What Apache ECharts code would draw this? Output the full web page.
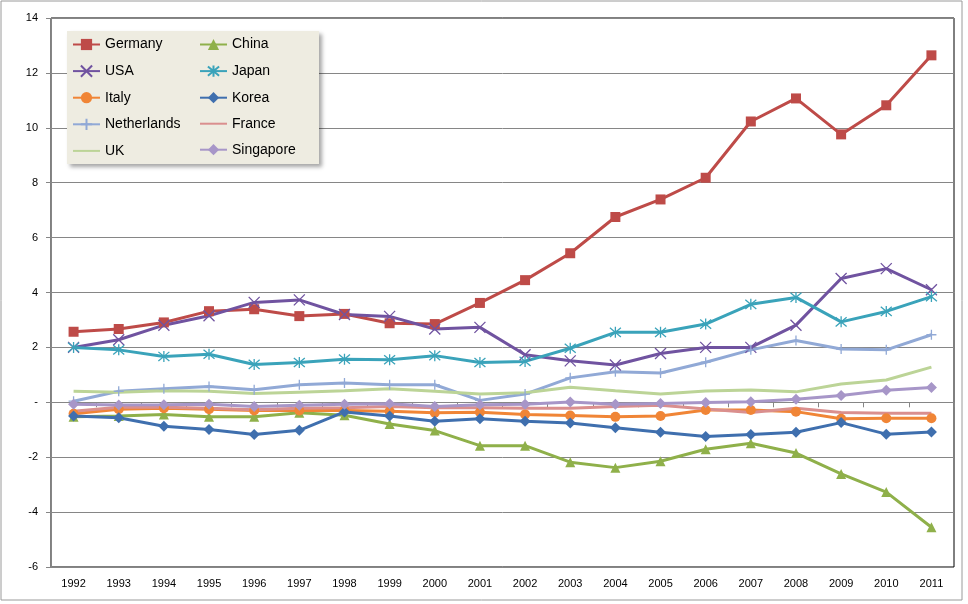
<!DOCTYPE html>
<html><head><meta charset="utf-8">
<script src="https://cdn.jsdelivr.net/npm/echarts@6/dist/echarts.min.js"></script>
<style>html,body{margin:0;padding:0;background:#fff}#c{width:968px;height:604px}</style>
</head><body><div id="c"></div>
<script>
var years = ['1992','1993','1994','1995','1996','1997','1998','1999','2000','2001','2002','2003','2004','2005','2006','2007','2008','2009','2010','2011'];
var germany = [2.57,2.67,2.91,3.32,3.39,3.14,3.22,2.88,2.85,3.62,4.45,5.43,6.75,7.39,8.18,10.23,11.07,9.76,10.82,12.64];
var usa = [2.0,2.28,2.81,3.15,3.64,3.73,3.2,3.13,2.67,2.73,1.73,1.51,1.36,1.78,2.0,2.0,2.81,4.51,4.87,4.1];
var japan = [2.0,1.91,1.67,1.75,1.38,1.45,1.57,1.55,1.7,1.45,1.49,1.97,2.55,2.55,2.85,3.57,3.82,2.93,3.31,3.85];
var italy = [-0.42,-0.25,-0.22,-0.25,-0.3,-0.3,-0.3,-0.33,-0.38,-0.36,-0.44,-0.48,-0.53,-0.5,-0.28,-0.28,-0.34,-0.6,-0.58,-0.58];
var korea = [-0.5,-0.56,-0.87,-0.99,-1.17,-1.02,-0.35,-0.5,-0.69,-0.6,-0.69,-0.75,-0.93,-1.09,-1.25,-1.17,-1.09,-0.74,-1.16,-1.08];
var netherlands = [0.04,0.4,0.49,0.58,0.46,0.64,0.7,0.64,0.64,0.07,0.3,0.89,1.11,1.07,1.46,1.91,2.25,1.94,1.91,2.46];
var uk = [0.4,0.37,0.42,0.4,0.32,0.37,0.42,0.49,0.4,0.3,0.35,0.55,0.42,0.3,0.41,0.45,0.38,0.67,0.81,1.28];
var china = [-0.53,-0.5,-0.44,-0.53,-0.53,-0.38,-0.47,-0.79,-1.03,-1.58,-1.58,-2.18,-2.38,-2.15,-1.71,-1.49,-1.85,-2.61,-3.27,-4.55];
var france = [-0.33,-0.18,-0.18,-0.22,-0.27,-0.22,-0.2,-0.15,-0.2,-0.2,-0.22,-0.22,-0.15,-0.11,-0.24,-0.37,-0.22,-0.37,-0.4,-0.4];
var singapore = [-0.07,-0.1,-0.09,-0.07,-0.15,-0.11,-0.07,-0.05,-0.15,-0.09,-0.07,0.01,-0.07,-0.04,-0.01,0.02,0.11,0.25,0.44,0.54];

var FONT = 'Liberation Sans';
var X_PATH = 'path://M0,0L10,10M10,0L0,10';
var STAR_PATH = 'path://M0,0L10,10M10,0L0,10M5,-1L5,11';
var PLUS_PATH = 'path://M5,0L5,10M0,5L10,5';

function mk(name, data, color, symbol, size, stroked) {
  return {
    name: name, type: 'line', data: data,
    symbol: symbol || 'none', symbolSize: size || 0,
    showSymbol: !!symbol,
    lineStyle: {color: color, width: 3},
    itemStyle: stroked ? {color: 'none', borderColor: color, borderWidth: 1.3} : {color: color},
    emphasis: {disabled: true},
    animation: false
  };
}

var series = [
  mk('Germany', germany, '#BE4B48', 'rect', 10),
  mk('China', china, '#8FB04A', 'triangle', 10),
  mk('USA', usa, '#7053A0', X_PATH, 11, true),
  mk('Japan', japan, '#3AA3BA', STAR_PATH, 11, true),
  mk('Italy', italy, '#F08536', 'circle', 10),
  mk('Korea', korea, '#3F6FAE', 'diamond', 11),
  mk('Netherlands', netherlands, '#91A9D6', PLUS_PATH, 10, true),
  mk('France', france, '#DA8F8E', null, 0),
  mk('UK', uk, '#BCD497', null, 0),
  mk('Singapore', singapore, '#A796C8', 'diamond', 11)
];

var legendCommon = {
  orient: 'vertical', top: 37, itemHeight: 14, itemGap: 11,
  textStyle: {fontFamily: FONT, fontSize: 14, color: '#000', lineHeight: 15, height: 15},
  selectedMode: false, padding: 0
};

var chart = echarts.init(document.getElementById('c'), null, {renderer: 'canvas'});
chart.setOption({
  backgroundColor: '#fff',
  animation: false,
  grid: {left: 51, right: 14, top: 18, bottom: 37, show: true, borderColor: '#000', borderWidth: 1, backgroundColor: 'transparent'},
  graphic: [
    {type: 'rect', z: 0, shape: {x: 1, y: 1, width: 961, height: 599}, style: {fill: 'none', stroke: '#9a9a9a', lineWidth: 1}},
    {type: 'rect', z: 3, shape: {x: 67, y: 31, width: 252, height: 133}, style: {fill: '#EEECE1', shadowBlur: 4, shadowOffsetX: 3, shadowOffsetY: 3, shadowColor: 'rgba(0,0,0,0.35)'}}
  ],
  legend: [
    Object.assign({}, legendCommon, {left: 72, itemWidth: 27, data: ['Germany','USA','Italy','Netherlands',{name: 'UK', itemStyle: {opacity: 0}}]}),
    Object.assign({}, legendCommon, {left: 199, itemWidth: 27, data: ['China','Japan','Korea',{name: 'France', itemStyle: {opacity: 0}},'Singapore']})
  ],
  xAxis: {
    type: 'category', data: years, boundaryGap: true,
    axisLine: {lineStyle: {color: '#868686', width: 1}},
    axisTick: {show: true, length: 5, lineStyle: {color: '#868686'}},
    axisLabel: {fontFamily: FONT, fontSize: 11, color: '#000', margin: 11, interval: 0},
    splitLine: {show: false}
  },
  yAxis: {
    type: 'value', min: -6, max: 14, interval: 2,
    axisLine: {show: true, lineStyle: {color: '#868686', width: 1}},
    axisTick: {show: true, length: 5, lineStyle: {color: '#868686'}},
    axisLabel: {fontFamily: FONT, fontSize: 11, color: '#000', margin: 13,
      formatter: function (v) { return v === 0 ? '-' : String(v); }},
    splitLine: {show: true, lineStyle: {color: '#868686', width: 1}}
  },
  series: series
});
</script>
</body></html>
